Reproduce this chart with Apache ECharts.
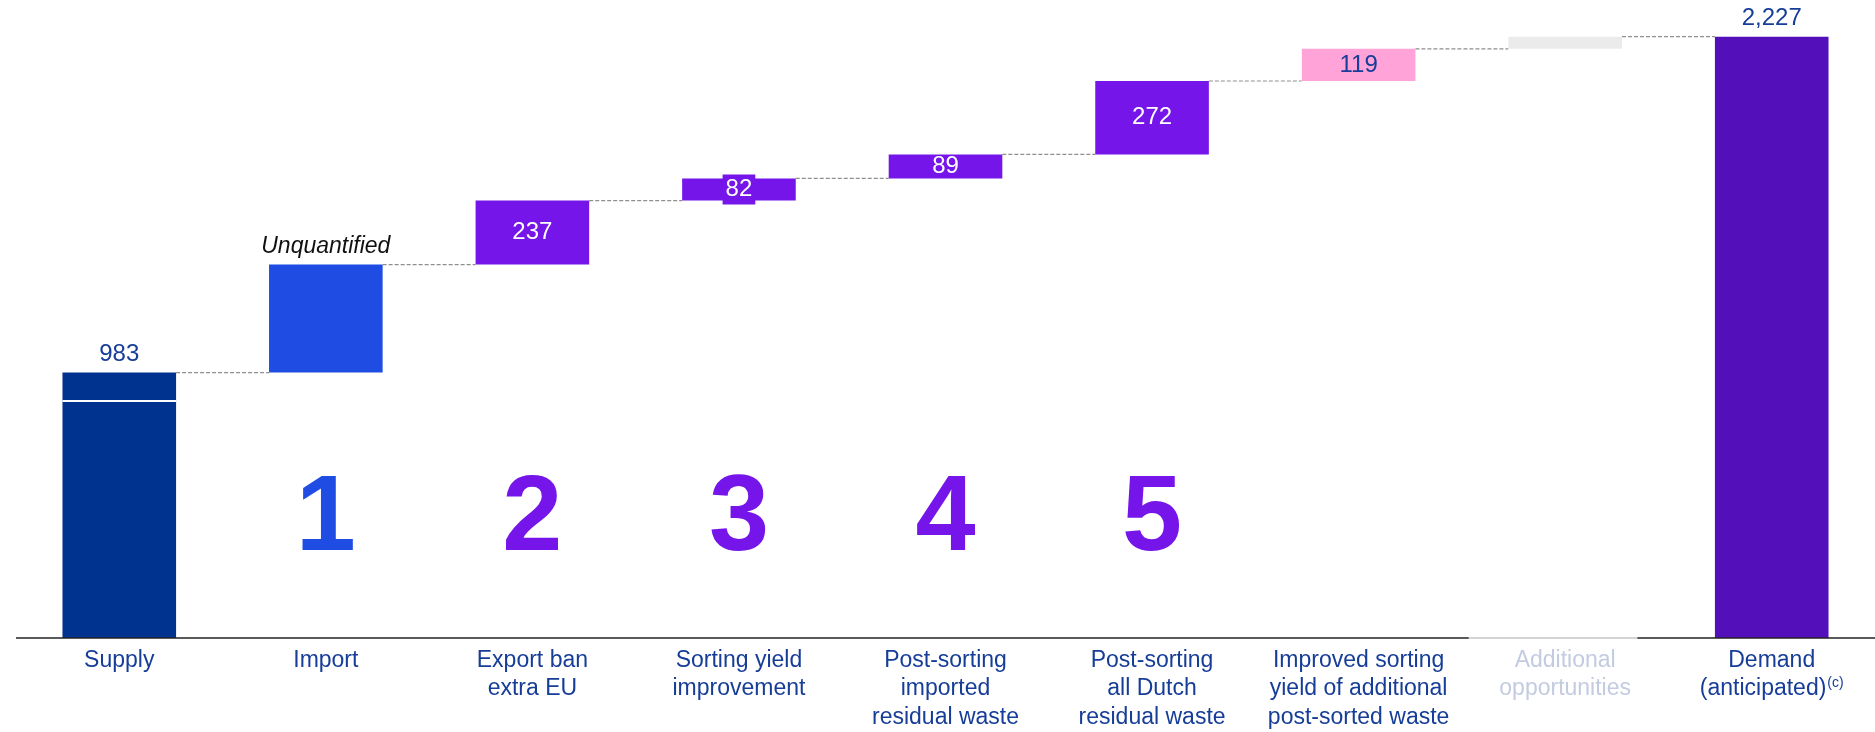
<!DOCTYPE html>
<html>
<head>
<meta charset="utf-8">
<script src="https://cdn.jsdelivr.net/npm/echarts@6/dist/echarts.min.js"></script>
<style>
  html, body { margin: 0; padding: 0; background: #ffffff; }
  #chart { width: 1875px; height: 732px; }
</style>
</head>
<body>
<div id="chart"></div>
<script>
// Waterfall: from supply to anticipated demand, in steps
const categories = [
  'Supply',
  'Import',
  'Export ban\nextra EU',
  'Sorting yield\nimprovement',
  'Post-sorting\nimported\nresidual waste',
  'Post-sorting\nall Dutch\nresidual waste',
  'Improved sorting\nyield of additional\npost-sorted waste',
  'Additional\nopportunities',
  'Demand\n(anticipated)'
];
const values = [983, 400, 237, 82, 89, 272, 119, 45, 2227];
const valueLabels = ['983', 'Unquantified', '237', '82', '89', '272', '119', '', '2,227'];
const stepNumbers = ['', '1', '2', '3', '4', '5', '', '', ''];
const supplySegments = [878, 105];
const mutedCategory = 7;

// colours
const NAVY = '#00338f';
const BLUE = '#1f4ce3';
const PURPLE = '#7515e9';
const PINK = '#ffa3d8';
const GREY = '#ebebeb';
const DEEP = '#520fba';
const TEXT = '#163d97';
const FONT = 'Liberation Sans, Arial, sans-serif';
const barColors = [NAVY, BLUE, PURPLE, PURPLE, PURPLE, PURPLE, PINK, GREY, DEEP];

// running totals: invisible base under each floating step
const last = values.length - 1;
const bases = [];
const tops = [];
let running = 0;
values.forEach((v, i) => {
  if (i === 0 || i === last) { bases.push(0); tops.push(v); running = v; }
  else { bases.push(running); running += v; tops.push(running); }
});

const BAR_FRAC = 0.55;
const STEP_LABEL_Y = 437;

function labelFor(i) {
  const base = { show: true, formatter: valueLabels[i], fontFamily: FONT, fontSize: 24 };
  if (valueLabels[i] === '') return { show: false };
  if (i === 0 || i === last) return Object.assign(base, { position: 'top', distance: 6, color: TEXT });
  if (i === 1) return Object.assign(base, { position: 'top', distance: 6, color: '#111111', fontStyle: 'italic', fontSize: 23 });
  if (i === 6) return Object.assign(base, { position: 'inside', color: TEXT });
  if (i === 3) return Object.assign(base, { position: 'inside', color: '#ffffff', backgroundColor: PURPLE, padding: [4, 3, 2, 3] });
  return Object.assign(base, { position: 'inside', color: '#ffffff' });
}

const chart = echarts.init(document.getElementById('chart'), null, { renderer: 'canvas' });

chart.setOption({
  animation: false,
  backgroundColor: '#ffffff',
  grid: { left: 16, top: 17, width: 1871, bottom: 94, containLabel: false },
  xAxis: {
    type: 'category',
    data: categories,
    boundaryGap: true,
    axisLine: { show: false },
    axisTick: { show: false },
    axisLabel: {
      interval: 0,
      margin: 8,
      formatter: (v, idx) => {
        const style = idx === mutedCategory ? 'm' : 'n';
        return v.split('\n').map((line, k) => {
          if (idx === last && k === 1) return '{' + style + '|' + line + '}{sup|(c)}';
          return '{' + style + '|' + line + '}';
        }).join('\n');
      },
      rich: {
        n: { fontFamily: FONT, fontSize: 23, lineHeight: 28.5, color: TEXT },
        m: { fontFamily: FONT, fontSize: 23, lineHeight: 28.5, color: '#c3cbe0' },
        sup: { fontFamily: FONT, fontSize: 14, lineHeight: 28.5, color: TEXT, padding: [0, 0, 11, 1] }
      }
    }
  },
  yAxis: {
    type: 'value', min: 0, max: 2300, show: false,
    splitLine: { show: false }
  },
  series: [
    {
      name: 'base',
      type: 'bar',
      stack: 'wf',
      barWidth: (BAR_FRAC * 100) + '%',
      itemStyle: { color: 'transparent' },
      emphasis: { disabled: true },
      data: bases
    },
    {
      name: 'value',
      type: 'bar',
      stack: 'wf',
      barWidth: (BAR_FRAC * 100) + '%',
      z: 3,
      data: values.map((v, i) => ({
        value: v,
        itemStyle: { color: barColors[i] },
        label: labelFor(i)
      }))
    },
    {
      // dashed connectors between consecutive totals
      name: 'connectors',
      type: 'custom',
      z: 2,
      silent: true,
      data: tops.slice(0, last).map((t, i) => [i, t]),
      renderItem: (params, api) => {
        const i = api.value(0);
        const p = api.coord([i, api.value(1)]);
        const bw = api.size([1, 0])[0];
        const half = bw * BAR_FRAC / 2;
        return {
          type: 'line',
          shape: { x1: p[0] + half, y1: p[1], x2: p[0] + bw - half, y2: p[1] },
          style: { stroke: '#8f8f8f', lineWidth: 1.2, lineDash: [4, 2] }
        };
      }
    },
    {
      // division inside the supply bar
      name: 'supplySplit',
      type: 'custom',
      z: 5,
      silent: true,
      data: [[0, supplySegments[0]]],
      renderItem: (params, api) => {
        const p = api.coord([api.value(0), api.value(1)]);
        const half = api.size([1, 0])[0] * BAR_FRAC / 2;
        return {
          type: 'line',
          shape: { x1: p[0] - half, y1: p[1], x2: p[0] + half, y2: p[1] },
          style: { stroke: '#ffffff', lineWidth: 2 }
        };
      }
    },
    {
      // baseline across all categories
      name: 'baseline',
      type: 'custom',
      z: 6,
      silent: true,
      data: [[0, 0]],
      renderItem: (params, api) => {
        const p = api.coord([0, 0]);
        const bw = api.size([1, 0])[0];
        const x0 = p[0] - bw / 2;
        return {
          type: 'line',
          shape: { x1: x0, y1: p[1], x2: x0 + bw * categories.length, y2: p[1] },
          style: { stroke: '#222222', lineWidth: 1.6 }
        };
      }
    },
    {
      // lighter stretch of the baseline under the unquantified opportunities
      name: 'baselineMuted',
      type: 'custom',
      z: 7,
      silent: true,
      data: [[mutedCategory, 0]],
      renderItem: (params, api) => {
        const p = api.coord([api.value(0), 0]);
        const bw = api.size([1, 0])[0];
        return {
          type: 'line',
          shape: { x1: p[0] - bw * 0.467, y1: p[1], x2: p[0] + bw * 0.35, y2: p[1] },
          style: { stroke: '#d3d3d3', lineWidth: 1.8 }
        };
      }
    },
    {
      // step numbers under the floating bars
      name: 'steps',
      type: 'scatter',
      symbolSize: 0,
      silent: true,
      itemStyle: { color: 'transparent', opacity: 1 },
      label: {
        show: true,
        position: 'inside',
        formatter: p => stepNumbers[p.value[0]],
        fontFamily: FONT,
        fontWeight: 'bold',
        fontSize: 108
      },
      data: stepNumbers
        .map((s, i) => [i, STEP_LABEL_Y])
        .filter((d, i) => stepNumbers[i] !== '')
        .map(d => ({ value: d, label: { color: d[0] === 1 ? BLUE : PURPLE } }))
    }
  ]
});
</script>
</body>
</html>
